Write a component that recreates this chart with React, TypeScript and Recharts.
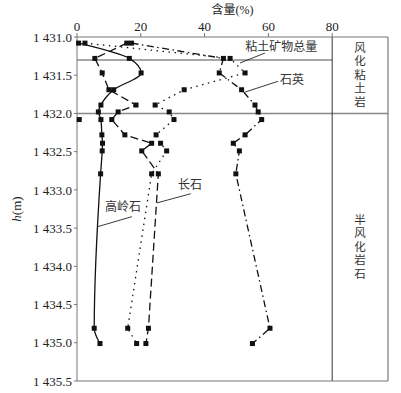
import React from 'react';
import {
  ScatterChart, Scatter, XAxis, YAxis, ReferenceLine, ReferenceArea, ReferenceDot,
} from 'recharts';

// sample depths (m) and mineral contents (%)
const depth = [1431.08, 1431.28, 1431.47, 1431.69, 1431.89, 1431.98, 1432.08, 1432.28, 1432.39, 1432.49, 1432.79, 1434.81, 1435.01];
const kaolinite = [0.5, 16.4, 20.1, 11.5, 7.5, 6.7, 7.5, 7.8, 8.0, 7.9, 7.4, 5.4, 7.2];
const feldspar = [15.6, 5.6, 7.9, 10.0, 18.5, 12.9, 10.9, 15.0, 23.4, 20.3, 25.5, 22.4, 21.6];
const clayTotal = [2.5, 48.0, 52.7, 33.6, 24.5, 28.9, 30.4, 24.8, 26.2, 28.1, 23.4, 15.9, 18.7];
const quartz = [17.1, 45.9, 44.6, 51.6, 55.8, 56.8, 57.9, 52.7, 49.0, 50.9, 49.8, 60.5, 55.0];
const strayDepth = [1432.08];
const strayValue = [0.7];

const xTicks = [0, 20, 40, 60, 80];
const yTicks = [1431, 1431.5, 1432, 1432.5, 1433, 1433.5, 1434, 1434.5, 1435, 1435.5];

const toPts = (vals: number[], hs: number[] = depth) => hs.map((h, i) => ({ h, v: vals[i] }));

const SERIF = '"Liberation Serif", "Times New Roman", "Noto Sans CJK SC", serif';
const CJK = '"Noto Sans CJK SC", sans-serif';
const FRAME = '#777';

const Square = (props: any) => {
  const { cx, cy } = props;
  if (cx == null || cy == null) return null;
  return <rect x={cx - 2.5} y={cy - 2.5} width={5} height={5} fill="#111" />;
};

const fmtDepth = (v: number) => {
  const s = v.toFixed(1);
  return s[0] + ' ' + s.slice(1);
};

// vertical text for the lithology column
const VText = (props: any) => {
  const { viewBox, text } = props;
  if (!viewBox) return null;
  const cx = viewBox.x + viewBox.width / 2;
  const cy = viewBox.y + viewBox.height / 2;
  return (
    <text x={cx} y={cy} textAnchor="middle" fontFamily={CJK} fontSize={11.5} fill="#333"
      style={{ writingMode: 'vertical-rl', textOrientation: 'upright', letterSpacing: 2 } as any}>
      {text}
    </text>
  );
};

const YTitle = (props: any) => {
  const { viewBox } = props;
  if (!viewBox) return null;
  const x = viewBox.x + 9;
  const y = viewBox.y + viewBox.height / 2;
  return (
    <text x={x} y={y} transform={`rotate(-90 ${x} ${y})`} textAnchor="middle" dominantBaseline="central"
      fontFamily={SERIF} fontSize={13} fill="#222">
      <tspan fontStyle="italic">h</tspan>(m)
    </text>
  );
};

const notes = [
  { text: '粘土矿物总量', x: 64, y: 1431.13, from: [51.1, 1431.34], to: [58.9, 1431.21] },
  { text: '石英', x: 67.4, y: 1431.56, from: [52.7, 1431.72], to: [63.0, 1431.58] },
  { text: '长石', x: 35.4, y: 1432.93, from: [25.1, 1433.17], to: [35.7, 1433.05] },
  { text: '高岭石', x: 14.4, y: 1433.22, from: [6.6, 1433.48], to: [17.2, 1433.35] },
];

export default function App() {
  const lineBase = { stroke: '#111', strokeWidth: 1.3, fill: 'none' };
  return (
    <div style={{ position: 'absolute', left: 0, top: 0, background: '#fff' }}>
      <ScatterChart width={401} height={393} margin={{ top: 7, right: 13, bottom: 12, left: 7 }}>
        <XAxis
          type="number" dataKey="v" orientation="top" domain={[0, 97.5]} ticks={xTicks}
          tickSize={4} axisLine={{ stroke: FRAME }} tickLine={{ stroke: FRAME }} height={30}
          tick={{ fontFamily: SERIF, fontSize: 13, fill: '#222' }}
          label={{ value: '含量(%)', position: 'insideTop', offset: -2, fontFamily: SERIF, fontSize: 12, fill: '#222' }}
        />
        <YAxis
          type="number" dataKey="h" domain={[1431, 1435.5]} reversed ticks={yTicks} width={70}
          tickSize={3} axisLine={{ stroke: FRAME }} tickLine={{ stroke: FRAME }} tickFormatter={fmtDepth}
          tick={{ fontFamily: SERIF, fontSize: 13, fill: '#222' }}
          label={<YTitle />}
        />
        <ReferenceLine segment={[{ x: 0, y: 1431.3 }, { x: 80, y: 1431.3 }]} stroke="#888" strokeWidth={1.5} />
        <ReferenceLine y={1432} stroke="#888" strokeWidth={1.5} />
        <ReferenceLine x={80} stroke="#333" strokeWidth={1} />
        <ReferenceLine x={97.5} stroke={FRAME} strokeWidth={1.2} />
        <ReferenceLine y={1435.5} stroke={FRAME} strokeWidth={1.2} />
        <ReferenceArea x1={80} x2={97.5} y1={1431} y2={1432} fill="none" stroke="none"
          label={<VText text="风化粘土岩" />} />
        <ReferenceArea x1={80} x2={97.5} y1={1432} y2={1435.5} fill="none" stroke="none"
          label={<VText text="半风化岩石" />} />
        {notes.map((n) => (
          <ReferenceLine key={n.text + 'l'} segment={[{ x: n.from[0], y: n.from[1] }, { x: n.to[0], y: n.to[1] }]}
            stroke="#222" strokeWidth={0.9} />
        ))}
        {notes.map((n) => (
          <ReferenceDot key={n.text} x={n.x} y={n.y} r={0} stroke="none" fill="none"
            label={{ value: n.text, position: 'center', fontFamily: CJK, fontSize: 12, fill: '#333' }} />
        ))}
        <Scatter name="高岭石" data={toPts(kaolinite)} shape={<Square />} isAnimationActive={false}
          line={{ ...lineBase }} lineJointType="monotoneY" />
        <Scatter name="长石" data={toPts(feldspar)} shape={<Square />} isAnimationActive={false}
          line={{ ...lineBase, strokeDasharray: '8 4' }} />
        <Scatter name="粘土矿物总量" data={toPts(clayTotal)} shape={<Square />} isAnimationActive={false}
          line={{ ...lineBase, strokeDasharray: '1.5 4.5' }} />
        <Scatter name="石英" data={toPts(quartz)} shape={<Square />} isAnimationActive={false}
          line={{ ...lineBase, strokeDasharray: '7 3.5 1.5 3.5' }} />
        <Scatter name="stray" data={toPts(strayValue, strayDepth)} shape={<Square />} isAnimationActive={false} />
      </ScatterChart>
    </div>
  );
}
